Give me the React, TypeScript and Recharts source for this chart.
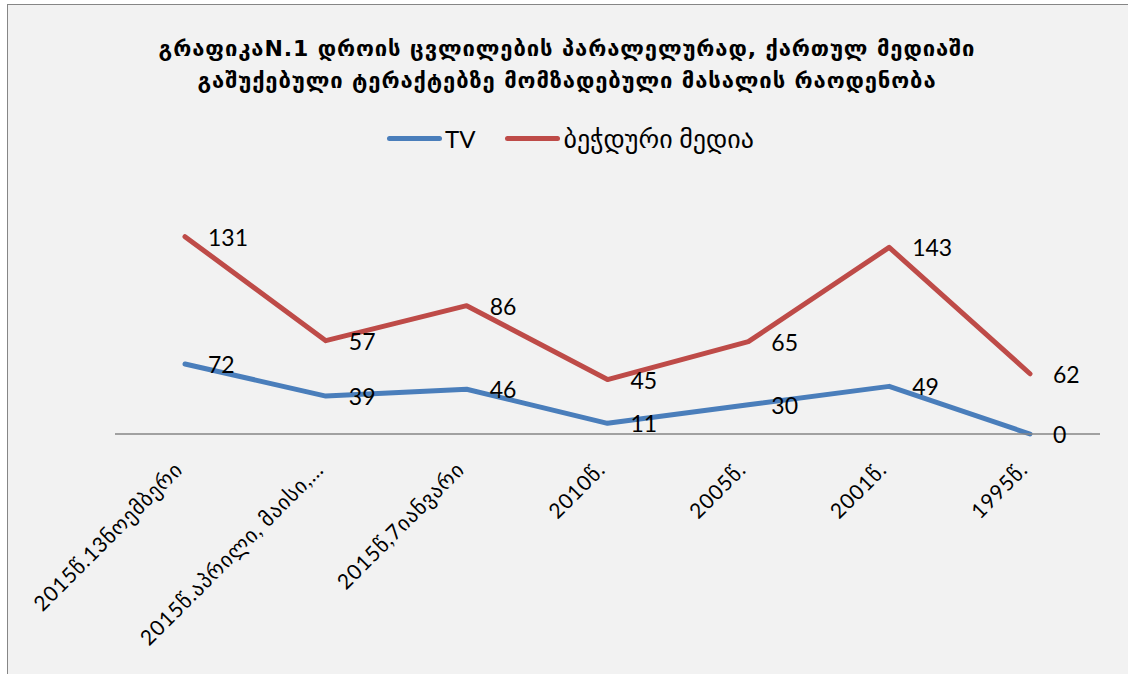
import React from "react";
import { ComposedChart, Area, XAxis, YAxis, LabelList } from "recharts";

// categories (Excel order, newest first)
const periods = [
  "2015წ.13ნოემბერი",
  "2015წ.აპრილი, მაისი,…",
  "2015წ,7იანვარი",
  "2010წ.",
  "2005წ.",
  "2001წ.",
  "1995წ.",
];
const tvValues = [72, 39, 46, 11, 30, 49, 0];
const printValues = [131, 57, 86, 45, 65, 143, 62];

const titleLines = [
  "გრაფიკაN.1 დროის ცვლილების პარალელურად, ქართულ მედიაში",
  "გაშუქებული ტერაქტებზე მომზადებული მასალის რაოდენობა",
];

const series = [
  { key: "tv", name: "TV", color: "#4A7EBB" },
  { key: "print", name: "ბეჭდური მედია", color: "#BE4B48" },
];

const data = periods.map((p, i) => ({
  period: p,
  tv: tvValues[i],
  print: printValues[i],
}));

const FONT = "Lato, 'DejaVu Sans', sans-serif";

const AngledTick = (props: any) => {
  const { x, payload } = props;
  const tx = x - 1;
  const ty = 466;
  return (
    <text
      x={tx}
      y={ty}
      transform={`rotate(-45 ${tx} ${ty})`}
      textAnchor="end"
      fontSize={21}
      letterSpacing={0.8}
      fontFamily={FONT}
      fill="#000"
    >
      {payload.value}
    </text>
  );
};

const ValueLabel = (props: any) => {
  const { x, y, value } = props;
  return (
    <text
      x={x + 23}
      y={y}
      dominantBaseline="central"
      fontSize={23}
      fontFamily={FONT}
      fill="#000"
    >
      {value}
    </text>
  );
};

export default function App() {
  return (
    <div
      style={{
        position: "absolute",
        left: 7,
        top: 4,
        width: 1130,
        height: 680,
        background: "#F2F2F2",
        border: "1px solid #868686",
        fontFamily: FONT,
      }}
    >
      {/* title */}
      <div
        style={{
          position: "absolute",
          left: 0,
          top: 28,
          width: 1118,
          textAlign: "center",
          fontSize: 22,
          letterSpacing: 0.9,
          fontWeight: "bold",
          lineHeight: "32px",
          fontFamily: "'DejaVu Sans', sans-serif",
          color: "#000",
        }}
      >
        {titleLines.map((t) => (
          <div key={t}>{t}</div>
        ))}
      </div>

      {/* legend */}
      <div
        style={{
          position: "absolute",
          left: 379,
          top: 117,
          display: "flex",
          alignItems: "center",
          fontSize: 25,
          height: 32,
        }}
      >
        {series.map((s) => (
          <div
            key={s.key}
            style={{ display: "flex", alignItems: "center", marginRight: 30 }}
          >
            <div
              style={{
                width: 55,
                height: 5,
                borderRadius: 3,
                background: s.color,
                marginRight: 3,
              }}
            />
            <span style={{ fontSize: s.key === "tv" ? 24 : 26 }}>{s.name}</span>
          </div>
        ))}
      </div>

      <div style={{ position: "absolute", left: 0, top: 0 }}>
        <ComposedChart
          width={1120}
          height={669}
          data={data}
          margin={{ top: 186, right: 28, left: 107, bottom: 0 }}
        >
          <XAxis
            dataKey="period"
            height={240}
            interval={0}
            padding={{ left: 70, right: 70 }}
            tickLine={false}
            axisLine={{ stroke: "#868686", strokeWidth: 1.5 }}
            tick={<AngledTick />}
          />
          <YAxis hide type="number" domain={[0, 250]} />
          {series.map((s) => (
            <Area
              key={s.key}
              type="linear"
              dataKey={s.key}
              name={s.name}
              stackId="stack"
              stroke={s.color}
              strokeWidth={5}
              strokeLinecap="round"
              strokeLinejoin="round"
              fill="none"
              fillOpacity={0}
              dot={false}
              activeDot={false}
              isAnimationActive={false}
            >
              <LabelList dataKey={s.key} content={<ValueLabel />} />
            </Area>
          ))}
        </ComposedChart>
      </div>
    </div>
  );
}
